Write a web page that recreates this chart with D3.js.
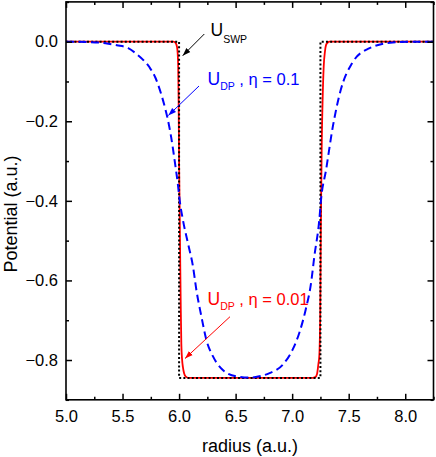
<!DOCTYPE html>
<html>
<head>
<meta charset="utf-8">
<script src="https://cdn.jsdelivr.net/npm/d3@7"></script>
<style>
  html, body { margin: 0; padding: 0; background: #fff; }
  svg { display: block; font-family: Arial, "Liberation Sans", sans-serif; }
</style>
</head>
<body>
<svg id="chart" width="436" height="457"></svg>
<script>
// ---- data ----
const xTicks = [5.0, 5.5, 6.0, 6.5, 7.0, 7.5, 8.0];
const yTicks = [0.0, -0.2, -0.4, -0.6, -0.8];
const xDomain = [5.0, 8.25];
const yDomain = [-0.9, 0.1];

// square-well potential U_SWP
const swpR = [5.0, 6.0, 6.0, 7.25, 7.25, 8.25];
const swpU = [0, 0, -0.845, -0.845, 0, 0];

// U_DP, eta = 0.01 (red)
const dp001R = [5.0, 5.95, 5.961, 5.975, 5.985, 5.992, 5.996, 6.0, 6.005, 6.01, 6.015, 6.02, 6.027, 6.034, 6.045, 6.06, 6.08,
                7.18, 7.205, 7.22, 7.232, 7.24, 7.248, 7.252, 7.256, 7.262, 7.27, 7.279, 7.29, 7.30, 7.315, 7.33, 8.25];
const dp001U = [0, 0, -0.001, -0.006, -0.02, -0.06, -0.15, -0.30, -0.42, -0.55, -0.67, -0.76, -0.80, -0.818, -0.834, -0.842, -0.845,
                -0.845, -0.843, -0.835, -0.81, -0.79, -0.69, -0.55, -0.40, -0.25, -0.14, -0.063, -0.025, -0.008, -0.002, 0, 0];

// U_DP, eta = 0.1 (blue)
const dp01R = [5.0, 5.2, 5.35, 5.45, 5.55, 5.62, 5.68, 5.74, 5.79, 5.83, 5.87, 5.90, 5.93, 5.96, 5.99, 6.005, 6.034, 6.078,
               6.123, 6.153, 6.197, 6.241, 6.30, 6.387, 6.505, 6.63, 6.71, 6.80, 6.916, 7.004, 7.063, 7.12, 7.167, 7.196,
               7.24, 7.255, 7.30, 7.36, 7.43, 7.53, 7.68, 7.89, 8.05, 8.25];
const dp01U = [0, -0.001, -0.004, -0.009, -0.016, -0.03, -0.045, -0.065, -0.09, -0.121, -0.16, -0.195, -0.24, -0.297, -0.36, -0.398, -0.448, -0.506,
               -0.565, -0.624, -0.69, -0.749, -0.791, -0.825, -0.841, -0.844, -0.841, -0.833, -0.812, -0.774, -0.732, -0.673, -0.607, -0.54,
               -0.448, -0.398, -0.322, -0.213, -0.121, -0.054, -0.017, -0.002, 0, 0];

// ---- layout ----
const svg = d3.select("#chart");
const mLeft = 66, mRight = 433.5, mTop = 1.9, mBottom = 399.8;
const x = d3.scaleLinear().domain(xDomain).range([mLeft, mRight]);
const y = d3.scaleLinear().domain(yDomain).range([mBottom, mTop]);

const zip = (a, b) => a.map((v, i) => [v, b[i]]);
const lineSmooth = d3.line().x(d => x(d[0])).y(d => y(d[1])).curve(d3.curveMonotoneX);
const lineStraight = d3.line().x(d => x(d[0])).y(d => y(d[1]));

svg.append("clipPath").attr("id", "clip")
  .append("rect").attr("x", mLeft).attr("y", mTop).attr("width", mRight - mLeft).attr("height", mBottom - mTop);
const plot = svg.append("g").attr("clip-path", "url(#clip)");

// red solid
plot.append("path").attr("d", lineSmooth(zip(dp001R, dp001U)))
  .attr("fill", "none").attr("stroke", "#ff0000").attr("stroke-width", 1.8);
// black dotted
plot.append("path").attr("d", lineStraight(zip(swpR, swpU)))
  .attr("fill", "none").attr("stroke", "#000").attr("stroke-width", 2)
  .attr("stroke-dasharray", "2,2.2");
// blue dashed
plot.append("path").attr("d", lineSmooth(zip(dp01R, dp01U)))
  .attr("fill", "none").attr("stroke", "#0000ff").attr("stroke-width", 2)
  .attr("stroke-dasharray", "8,4.5");

// ---- axes ----
const minorX = d3.range(5.0, 8.26, 0.25).filter(v => !xTicks.some(t => Math.abs(t - v) < 1e-6));
const minorY = d3.range(-0.9, 0.101, 0.1).map(v => Math.round(v * 10) / 10)
  .filter(v => !yTicks.some(t => Math.abs(t - v) < 1e-6));

function axisSet(axisFn, scale, ticks, minor, transform, fmt, showLabels) {
  const gMaj = svg.append("g").attr("transform", transform)
    .call(axisFn(scale).tickValues(ticks).tickSizeInner(-6).tickSizeOuter(0)
      .tickPadding(showLabels ? 15 : 0).tickFormat(showLabels ? fmt : ""));
  const gMin = svg.append("g").attr("transform", transform)
    .call(axisFn(scale).tickValues(minor).tickSizeInner(-3).tickSizeOuter(0).tickFormat(""));
  [gMaj, gMin].forEach(g => {
    g.select(".domain").remove();
    g.selectAll("line").attr("stroke", "#000").attr("stroke-width", 1.5);
    g.selectAll("text").attr("font-size", "16.5px").attr("fill", "#000")
      .attr("font-family", "Arial, 'Liberation Sans', sans-serif");
  });
  return gMaj;
}
const fmt1 = d3.format(".1f");
const gx = axisSet(d3.axisBottom, x, xTicks, minorX, `translate(0,${mBottom})`, fmt1, true);
gx.selectAll("text").attr("dy", null).attr("y", 22);
axisSet(d3.axisTop, x, xTicks, minorX, `translate(0,${mTop})`, fmt1, false);
const gy = axisSet(d3.axisLeft, y, yTicks, minorY, `translate(${mLeft},0)`, fmt1, true);
gy.selectAll("text").attr("x", -8);
axisSet(d3.axisRight, y, yTicks, minorY, `translate(${mRight},0)`, fmt1, false);

// frame
svg.append("rect").attr("x", mLeft).attr("y", mTop).attr("width", mRight - mLeft).attr("height", mBottom - mTop)
  .attr("fill", "none").attr("stroke", "#000").attr("stroke-width", 1.6);

// axis titles
svg.append("text").attr("x", 250).attr("y", 452).attr("text-anchor", "middle")
  .attr("font-size", "18px").text("radius (a.u.)");
svg.append("text").attr("transform", "translate(16.5,214) rotate(-90)").attr("text-anchor", "middle")
  .attr("font-size", "18px").text("Potential (a.u.)");

// ---- annotations ----
const defs = svg.append("defs");
[["ahBlack", "#000"], ["ahBlue", "#0000ff"], ["ahRed", "#ff0000"]].forEach(([id, c]) => {
  defs.append("marker").attr("id", id).attr("viewBox", "0 0 10 10").attr("refX", 10).attr("refY", 5)
    .attr("markerWidth", 8).attr("markerHeight", 8).attr("markerUnits", "userSpaceOnUse").attr("orient", "auto")
    .append("path").attr("d", "M0,1.5 L10,5 L0,8.5 Z").attr("fill", c);
});
function arrow(x1, y1, x2, y2, c, id) {
  svg.append("line").attr("x1", x1).attr("y1", y1).attr("x2", x2).attr("y2", y2)
    .attr("stroke", c).attr("stroke-width", 1).attr("marker-end", `url(#${id})`);
}
function label(xp, yp, sub, subDy, rest, c) {
  const t = svg.append("text").attr("x", xp).attr("y", yp).attr("fill", c).attr("font-size", "16.5px");
  t.append("tspan").attr("font-size", "17.5px").text("U");
  t.append("tspan").attr("dy", subDy).attr("font-size", "10.5px").text(sub);
  if (rest) t.append("tspan").attr("dy", -subDy).text(rest);
}
label(210.5, 36, "SWP", 7, "", "#000");
arrow(204.3, 34, 182.7, 55.7, "#000", "ahBlack");
label(207.5, 85, "DP", 5, " , η = 0.1", "#0000ff");
arrow(199, 86, 168.3, 115.5, "#0000ff", "ahBlue");
label(207.5, 305, "DP", 4.5, " , η = 0.01", "#ff0000");
arrow(230, 316.7, 185, 358.5, "#ff0000", "ahRed");
</script>
</body>
</html>
